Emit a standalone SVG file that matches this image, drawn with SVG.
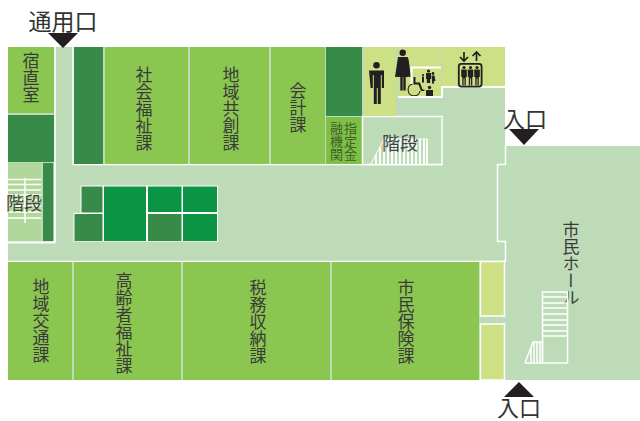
<svg xmlns="http://www.w3.org/2000/svg" width="640" height="421" viewBox="0 0 640 421">
<defs>
<style>
.hall{fill:#bddbb7}
.room{fill:#8ac650}
.dark{fill:#378a47}
.vivid{fill:#0b9444}
.pale{fill:#cde085}
.wline{fill:none;stroke:#fff;stroke-width:2}
.thin{fill:none;stroke:#fff;stroke-width:1.5}
.v{font-family:"Noto Sans CJK JP","Noto Sans",sans-serif;fill:#3a3a3a;writing-mode:vertical-rl;text-anchor:middle;font-size:17px}
.s{font-size:13px;fill:#3f5f2a}
.h{font-family:"Noto Sans CJK JP","Noto Sans",sans-serif;fill:#333;text-anchor:middle}
.ink{fill:#231f20}
</style>
<g id="man"><circle cx="0" cy="3.3" r="3.300"/><path d="M-7.500 8.500h15v17.500h-2.200v-13h-1v29h-3v-16h-1v16h-3v-29h-1v13h-2.200z"/></g>
<g id="pers"><circle cx="0" cy="1.500" r="1.600"/><path d="M-2.800 3.500h5.600v7.500h-1v8.500h-1.300v-7h-.9v7h-1.300v-8.500h-1z"/></g>
</defs>
<g id="floor">
<rect class="hall" x="8" y="47" width="497" height="333"/>
<rect class="hall" x="505" y="146" width="135" height="234"/>
<path class="thin" d="M505.500 146V164.500H497.500V241.500H505.500V262M55 47V242M73 47V164.500H442M8 261.500H505"/>
</g>
<g id="shukuchoku"><rect class="room" x="8" y="47" width="46" height="66"/><text class="v" x="31" y="78">宿直室</text></g>
<g id="dark-1"><rect class="dark" x="8" y="115" width="46" height="47"/></g>
<g id="stairs-left">
<rect x="8" y="163" width="33" height="78" fill="#b0d89a"/>
<rect class="dark" x="43" y="163" width="11" height="78"/>
<path class="thin" d="M8 179.500H41M8 184.500H41M8 190H41M8 195H41M8 200H41M8 206H41M8 212H41M8 218H41M25 178V223"/>
<path d="M54.500 162V242.500H8" class="wline"/>
<text class="h" x="24" y="210" font-size="18" style="fill:#444">階段</text>
</g>
<g id="dark-2"><rect class="dark" x="74" y="47" width="29" height="117"/></g>
<g id="shakai"><rect class="room" x="105" y="47" width="83" height="117"/><text class="v" x="144" y="109">社会福祉課</text></g>
<g id="chiiki-kyoso"><rect class="room" x="190" y="47" width="79" height="117"/><text class="v" x="231" y="109">地域共創課</text></g>
<g id="kaikei"><rect class="room" x="271" y="47" width="54" height="117"/><text class="v" x="298" y="108">会計課</text></g>
<g id="dark-3"><rect class="dark" x="326" y="47" width="36" height="69"/></g>
<g id="yushi"><rect x="326" y="117" width="36" height="47" fill="#7ebf46"/>
<text class="v s" x="336.500" y="141">融機関</text><text class="v s" x="350.500" y="141">指定金</text>
</g>
<g id="stairs-top">
<rect x="362.500" y="116.500" width="79.500" height="48" fill="#bddbb7" stroke="#fff" stroke-width="1.500"/>
<path d="M371 164L384 139H427V164" fill="none" stroke="#fff" stroke-width="1"/>
<path stroke="#fff" stroke-width="1.800" d="M376 164V155M380 164V147M384 164V139M388 164V139M392 164V139M396 164V139M400 164V139M404 164V139M408 164V139M412 164V139M416 164V139M420 164V139M424 164V139M427 164V139"/>
<text class="h" x="400" y="150" font-size="18" style="fill:#444">階段</text>
</g>
<g id="toilet-m"><rect class="pale" x="364" y="47" width="32" height="69"/><use href="#man" x="376.500" y="62" class="ink"/></g>
<g id="toilet-f">
<rect class="pale" x="398" y="47" width="43" height="50"/>
<circle class="ink" cx="402.700" cy="52.700" r="3.200"/>
<path class="ink" d="M398 57h9.500l1 2 2.500 18h-2.500l-.5-1.500V77h-2.300v13.500h-2.400V77h-.6v13.500h-2.400V77h-2.300v-1l-.5 1H395z"/>
<path class="wline" d="M411 67.500H441M411.500 67V84" stroke-width="1.500"/>
<path class="ink" d="M413.500 77h2v5.500h4.500l2.500 7h2v1.500h-3.500l-2.500-6.500h-5z"/>
<path d="M412.500 84a6 6 0 1 0 7.500 7" fill="none" stroke="#231f20" stroke-width="1.100"/>
<rect class="ink" x="426" y="90" width="7" height="7"/><circle class="ink" cx="429.500" cy="87.500" r="1.700"/>
<g class="ink"><circle cx="428.500" cy="71" r="1.600"/><path d="M426 73h5v6h-.8v4h-3.400v-4H426z"/><circle cx="423" cy="75" r="1.100"/><rect x="422" y="76.500" width="2" height="6"/><circle cx="433" cy="73.500" r="1.400"/><path d="M431.500 75.500h3l1 5.500h-1.500v2.500h-2V81z"/></g>
</g>
<g id="elevator">
<rect class="pale" x="442" y="47" width="63" height="40"/>
<path class="wline" d="M505 87H442V97H398" stroke-width="1.500"/>
<rect x="458.800" y="63.800" width="22.800" height="22.800" rx="2.500" fill="none" stroke="#231f20" stroke-width="1.800"/>
<g class="ink"><use href="#pers" x="464" y="66"/><use href="#pers" x="470.500" y="66"/><use href="#pers" x="477" y="66"/></g>
<path d="M464 52V61M460 57l4 4 4-4M476.500 61V52M472.500 56l4-4 4 4" fill="none" stroke="#231f20" stroke-width="1.700"/>
</g>
<g id="center-block">
<path d="M80.500 185.500V213H73.500V241.500H218V185.500z" fill="#fff"/>
<rect class="dark" x="81.500" y="186.500" width="21" height="26"/>
<rect class="dark" x="74.500" y="214" width="28" height="27"/>
<rect class="vivid" x="104" y="186.500" width="42" height="54.500"/>
<rect class="vivid" x="148" y="186.500" width="33.500" height="25.500"/>
<rect class="dark" x="148" y="214" width="33.500" height="27"/>
<rect class="vivid" x="183" y="186.500" width="34" height="25.500"/>
<rect class="vivid" x="183" y="214" width="34" height="27"/>
</g>
<g id="chiiki-kotsu"><rect class="room" x="8" y="262" width="64" height="118"/><text class="v" x="41" y="321">地域交通課</text></g>
<g id="koreisha"><rect class="room" x="74" y="262" width="107" height="118"/><text class="v" x="124" y="323">高齢者福祉課</text></g>
<g id="zeimu"><rect class="room" x="183" y="262" width="147" height="118"/><text class="v" x="258" y="322">税務収納課</text></g>
<g id="shimin-hoken"><rect class="room" x="332" y="262" width="147" height="118"/><text class="v" x="406" y="322">市民保険課</text></g>
<g id="pale-1"><rect class="pale" x="480.500" y="261.500" width="24" height="54.500" stroke="#fff" stroke-width="1.500"/></g>
<g id="pale-2"><rect class="pale" x="480.500" y="324" width="24" height="56" stroke="#fff" stroke-width="1.500"/></g>
<g id="hall-label"><text class="v" x="571" y="264">市民ホール</text></g>
<g id="stairs-hall">
<path class="thin" d="M542.500 292V363H567.500V292ZM542.500 297H567.500M542.500 303H567.500M542.500 308H567.500M542.500 314H567.500M542.500 320H567.500M542.500 325H567.500M542.500 331H567.500M542.500 336H567.500"/>
<path class="thin" d="M525 363H542.500M533 342H542.500L542.500 363M533 342L525 363M531 363V348M534 363V342M537 363V342M540 363V342"/>
</g>
<g id="entrance-staff"><path class="ink" d="M48 33H78L63 48z"/><text class="h" x="63" y="30" font-size="23">通用口</text></g>
<g id="entrance-east"><path class="ink" d="M509 129H539L524 145z"/><text class="h" x="525" y="127" font-size="22">入口</text></g>
<g id="entrance-south"><path class="ink" d="M504 397H534L519 382z"/><text class="h" x="519" y="416" font-size="22">入口</text></g>
</svg>
